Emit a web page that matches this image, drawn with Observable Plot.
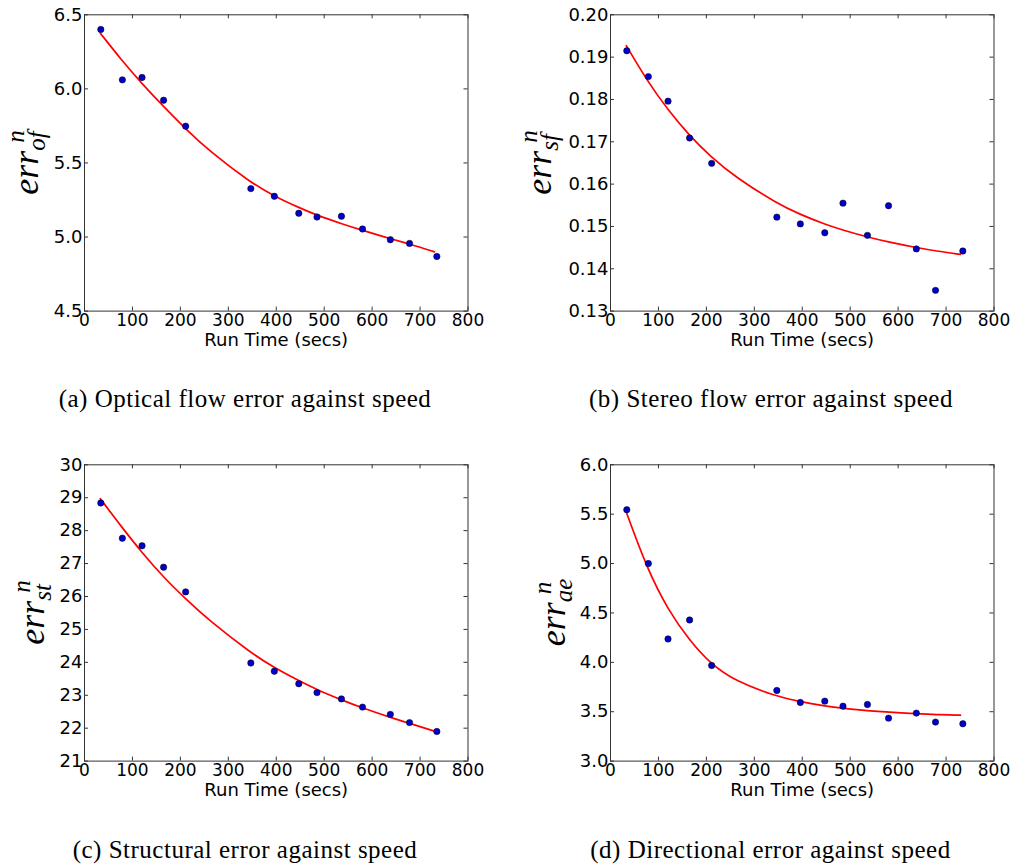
<!DOCTYPE html>
<html>
<head>
<meta charset="utf-8">
<script src="https://cdn.jsdelivr.net/npm/d3@7"></script>
<script src="https://cdn.jsdelivr.net/npm/@observablehq/plot@0.6"></script>
<style>
  body { margin: 0; background: #fff; width: 1015px; height: 867px; overflow: hidden; position: relative; }
  .panel { position: absolute; }
  .caption {
    position: absolute; white-space: nowrap; transform: translateX(-50%);
    font-family: "Liberation Serif", serif; font-size: 25px; line-height: 25px; color: #000;
    letter-spacing: 0.5px;
  }
</style>
</head>
<body>
<script>
// Run times (seconds) of the measured configurations
const runTime = [34, 79, 120, 165, 211, 347, 396, 447, 485, 536, 580, 638, 678, 735];

// Measured errors per configuration
const opticalFlowErr = [6.401, 6.061, 6.077, 5.923, 5.748, 5.327, 5.275, 5.160, 5.135, 5.140, 5.054, 4.982, 4.957, 4.869];
const stereoFlowErr  = [0.1915, 0.1854, 0.1796, 0.1709, 0.1649, 0.1522, 0.1506, 0.1485, 0.1555, 0.1479, 0.1549, 0.1447, 0.1349, 0.1442];
const structuralErr  = [28.84, 27.77, 27.54, 26.89, 26.14, 23.98, 23.73, 23.35, 23.08, 22.89, 22.64, 22.42, 22.17, 21.90];
const directionalErr = [5.545, 5.000, 4.237, 4.429, 3.968, 3.715, 3.594, 3.607, 3.556, 3.573, 3.435, 3.486, 3.395, 3.378];

// Fitted decay curves, sampled along the run-time axis
const fitTime = [33, 77, 120, 165, 210, 260, 346, 396, 450, 486, 536, 580, 638, 679, 730];
const opticalFlowFit = [6.376, 6.195, 6.035, 5.880, 5.733, 5.581, 5.369, 5.275, 5.195, 5.145, 5.090, 5.045, 4.988, 4.952, 4.900];
const stereoFlowFit  = [0.1927, 0.1843, 0.1775, 0.1714, 0.1664, 0.1617, 0.1555, 0.1528, 0.1504, 0.1491, 0.1475, 0.1463, 0.1450, 0.1442, 0.1434];
const structuralFit  = [28.97, 28.12, 27.33, 26.58, 25.94, 25.27, 24.30, 23.83, 23.42, 23.16, 22.86, 22.61, 22.33, 22.14, 21.91];
const directionalFit = [5.520, 4.940, 4.530, 4.220, 3.980, 3.810, 3.655, 3.600, 3.555, 3.535, 3.510, 3.495, 3.480, 3.470, 3.465];

// Axis ticks
const xTicks = [0, 100, 200, 300, 400, 500, 600, 700, 800];
const opticalTicks = [4.5, 5.0, 5.5, 6.0, 6.5];
const stereoTicks = [0.13, 0.14, 0.15, 0.16, 0.17, 0.18, 0.19, 0.20];
const structuralTicks = [21, 22, 23, 24, 25, 26, 27, 28, 29, 30];
const directionalTicks = [3.0, 3.5, 4.0, 4.5, 5.0, 5.5, 6.0];

// Subscripts of the error symbol and sub-figure captions
const subscripts = ["of", "sf", "st", "ae"];
const captions = [
  "(a) Optical flow error against speed",
  "(b) Stereo flow error against speed",
  "(c) Structural error against speed",
  "(d) Directional error against speed"
];

const W = 489, H = 350, ML = 84, MT = 14.3, MR = 21.5, MB = 39.4;
const innerW = W - ML - MR, innerH = H - MT - MB;
const TICK = 4;

function drawPanel(p) {
  const pts = runTime.map((t, i) => ({t, v: p.values[i]}));
  const fit = fitTime.map((t, i) => ({t, v: p.fit[i]}));

  const chart = Plot.plot({
    width: W, height: H,
    marginLeft: ML, marginTop: MT, marginRight: MR, marginBottom: MB,
    style: {fontFamily: "DejaVu Sans", fontSize: "18px", color: "#000", background: "transparent", overflow: "visible"},
    x: {domain: [0, 800]},
    y: {domain: p.domain},
    marks: [
      Plot.axisX(xTicks, {tickSize: 0, tickPadding: 2.5, tickFormat: d => String(d), label: null, fontSize: 17}),
      Plot.axisY(p.ticks, {tickSize: 0, tickPadding: 2, tickFormat: p.fmt, label: null, fontSize: 18}),
      // inward ticks on all four sides of the box
      Plot.tickX(xTicks, {x: d => d, insetTop: innerH - TICK, stroke: "#333"}),
      Plot.tickX(xTicks, {x: d => d, insetBottom: innerH - TICK, stroke: "#333"}),
      Plot.tickY(p.ticks, {y: d => d, insetRight: innerW - TICK, stroke: "#333"}),
      Plot.tickY(p.ticks, {y: d => d, insetLeft: innerW - TICK, stroke: "#333"}),
      Plot.frame({stroke: "#333", strokeWidth: 1}),
      Plot.line(fit, {x: "t", y: "v", curve: "basis", stroke: "#ff0000", strokeWidth: 1.7}),
      Plot.dot(pts, {x: "t", y: "v", r: 3.2, fill: "#0000cc", stroke: "#000", strokeWidth: 0.5}),
      Plot.text(["Run Time (secs)"], {text: d => d, frameAnchor: "bottom", lineAnchor: "top", dy: 22.4, fontSize: 18})
    ]
  });

  const div = document.createElement("div");
  div.className = "panel";
  div.style.left = p.left + "px";
  div.style.top = p.top + "px";
  div.appendChild(chart);
  document.body.appendChild(div);

  // y label: err with superscript n and a subscript, as one centred text chunk
  const cy = MT + innerH / 2;
  const label = d3.select(chart).append("text")
    .attr("font-family", "Liberation Serif")
    .attr("font-style", "italic")
    .attr("fill", "#000")
    .attr("text-anchor", "middle")
    .attr("transform", `translate(${p.labelBase},${cy}) rotate(-90)`);
  label.append("tspan").attr("font-size", 36).text("err");
  label.append("tspan").attr("font-size", 25).attr("dx", 8).attr("dy", -14).text("n");
  label.append("tspan").attr("font-size", 25).attr("dx", -20.5).attr("dy", 21).text(p.sub);

  const cap = document.createElement("div");
  cap.className = "caption";
  cap.textContent = p.caption;
  cap.style.left = p.capX + "px";
  cap.style.top = p.capY + "px";
  document.body.appendChild(cap);
}

const f1 = d3.format(".1f"), f2 = d3.format(".2f"), f0 = d3.format("d");

drawPanel({values: opticalFlowErr, fit: opticalFlowFit, domain: [4.5, 6.5], ticks: opticalTicks, fmt: f1,
  sub: subscripts[0], caption: captions[0], left: 0, top: 0, labelBase: 38, capX: 245, capY: 386});
drawPanel({values: stereoFlowErr, fit: stereoFlowFit, domain: [0.13, 0.20], ticks: stereoTicks, fmt: f2,
  sub: subscripts[1], caption: captions[1], left: 526, top: 0, labelBase: 25, capX: 771, capY: 386});
drawPanel({values: structuralErr, fit: structuralFit, domain: [21, 30], ticks: structuralTicks, fmt: f0,
  sub: subscripts[2], caption: captions[2], left: 0, top: 450, labelBase: 44, capX: 245, capY: 836.6});
drawPanel({values: directionalErr, fit: directionalFit, domain: [3.0, 6.0], ticks: directionalTicks, fmt: f1,
  sub: subscripts[3], caption: captions[3], left: 526, top: 450, labelBase: 39, capX: 770.5, capY: 836.6});
</script>
</body>
</html>
